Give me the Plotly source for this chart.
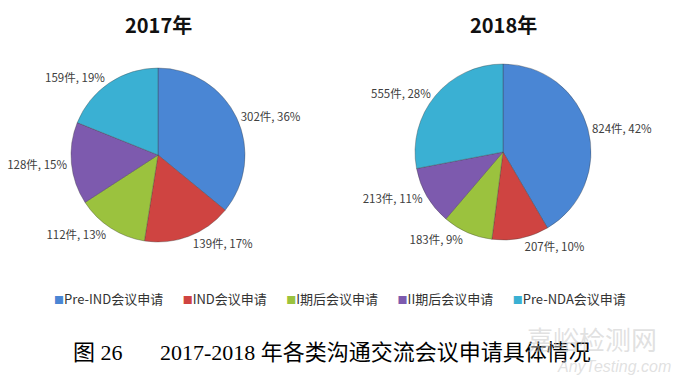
import plotly.graph_objects as go

categories = ["Pre-IND会议申请", "IND会议申请", "I期后会议申请", "II期后会议申请", "Pre-NDA会议申请"]
values_2017 = [302, 139, 112, 128, 159]
values_2018 = [824, 207, 183, 213, 555]
titles = ["2017年", "2018年"]
colors = ["#4A86D4", "#CF4441", "#9BC23E", "#7D5AAE", "#3AB0D3"]
caption = "图 26\u2003\u2002\u20092017-2018 年各类沟通交流会议申请具体情况"

W, H = 679, 384
label_font = dict(family="Noto Sans CJK SC, Open Sans, sans-serif", size=11.5, color="#404040")

def pie(vals, domain, name):
    return go.Pie(
        labels=categories, values=vals, name=name, sort=False, direction="clockwise",
        rotation=0, domain=domain, marker=dict(colors=colors, line=dict(color="rgba(60,60,60,0.35)", width=1)),
        texttemplate="%{value}件, %{percent:.0%}", textposition="outside",
        outsidetextfont=label_font, showlegend=False, hoverinfo="label+value+percent",
    )

fig = go.Figure()
fig.add_trace(pie(values_2017, dict(x=[71 / W, 245 / W], y=[1 - 242 / H, 1 - 68 / H]), titles[0]))
fig.add_trace(pie(values_2018, dict(x=[415 / W, 591 / W], y=[1 - 240 / H, 1 - 64 / H]), titles[1]))

annotations = []
for t, xc in zip(titles, [158, 503]):
    annotations.append(dict(text="<b>%s</b>" % t, x=xc / W, y=1 - 25 / H, xref="paper", yref="paper",
                            showarrow=False, xanchor="center", yanchor="middle",
                            font=dict(family="Noto Sans CJK SC, sans-serif", size=20, color="#111111")))

legend_text = "\u2003\u2002".join(
    "<span style='color:%s;font-size:10px'>■</span>%s" % (c, n) for c, n in zip(colors, categories)
)
annotations.append(dict(text=legend_text, x=340 / W, y=1 - 298 / H, xref="paper", yref="paper",
                        showarrow=False, xanchor="center", yanchor="middle",
                        font=dict(family="Noto Sans CJK SC, sans-serif", size=13, color="#333333")))

annotations.append(dict(text=caption, x=332 / W, y=1 - 352 / H, xref="paper", yref="paper",
                        showarrow=False, xanchor="center", yanchor="middle",
                        font=dict(family="Liberation Serif, Noto Sans CJK SC, serif", size=22, color="#000000")))

# watermark
annotations.append(dict(text="嘉峪检测网", x=592 / W, y=1 - 338 / H, xref="paper", yref="paper",
                        showarrow=False, xanchor="center", yanchor="middle",
                        font=dict(family="Noto Sans CJK SC, sans-serif", size=26, color="rgba(200,200,200,0.55)")))
annotations.append(dict(text="<i>AnyTesting.com</i>", x=614 / W, y=1 - 366 / H, xref="paper", yref="paper",
                        showarrow=False, xanchor="center", yanchor="middle",
                        font=dict(family="Liberation Sans, sans-serif", size=16, color="rgba(200,200,200,0.55)")))

fig.update_layout(
    width=W, height=H, margin=dict(l=0, r=0, t=0, b=0),
    paper_bgcolor="white", plot_bgcolor="white", annotations=annotations,
)

fig.write_html("out.html", config={"displayModeBar": False},
               post_script="document.body.style.margin='0';")
